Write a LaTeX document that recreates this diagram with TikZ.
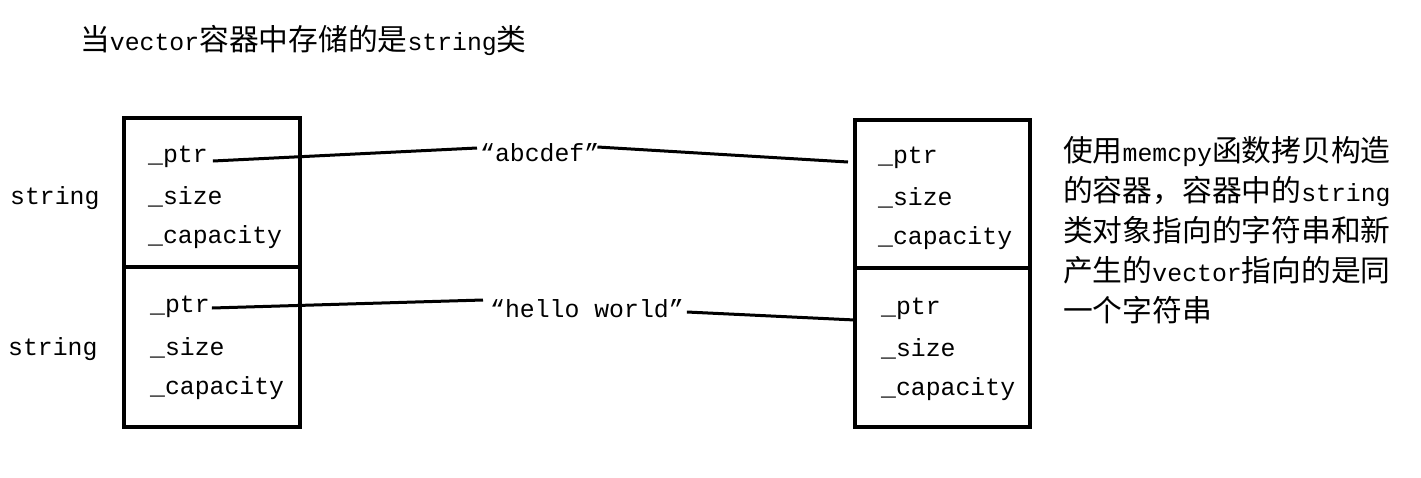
\documentclass[tikz,border=0pt]{standalone}
\usepackage{fontspec}
\setmainfont{Liberation Mono}
\newfontfamily\cjk{Noto Sans CJK SC}[Scale=1.2]
\begin{document}
\begin{tikzpicture}[x=1pt,y=-1pt,
  every node/.style={inner sep=0pt, font=\fontsize{24.8}{40}\selectfont},
  box/.style={draw, line width=4pt, minimum width=176pt},
  field/.style={anchor=west},
  link/.style={line width=3pt}]
\useasboundingbox[fill=white] (0,0) rectangle (1421,477);

% title
\node[anchor=west] (title) at (80,40) {{\cjk 当}vector{\cjk 容器中存储的是}string{\cjk 类}};

% boxes
\node[box, minimum height=149pt] (L1) at (211.5,192.5) {};
\node[box, minimum height=160pt] (L2) at (211.5,347) {};
\node[box, minimum width=175pt, minimum height=148pt] (R1) at (942.5,194) {};
\node[box, minimum width=175pt, minimum height=159pt] (R2) at (942.5,347.5) {};

% labels
\node[anchor=west] (s1) at (10,198) {string};
\node[anchor=west] (s2) at (8,349) {string};

% fields left
\node[field] (pL1) at (148,157) {\_ptr};
\node[field] (zL1) at (148,197) {\_size};
\node[field] (cL1) at (148,237) {\_capacity};
\node[field] (pL2) at (150,307) {\_ptr};
\node[field] (zL2) at (150,348) {\_size};
\node[field] (cL2) at (150,388) {\_capacity};

% fields right
\node[field] (pR1) at (878,158) {\_ptr};
\node[field] (zR1) at (878,198) {\_size};
\node[field] (cR1) at (878,238) {\_capacity};
\node[field] (pR2) at (881,309) {\_ptr};
\node[field] (zR2) at (881,349) {\_size};
\node[field] (cR2) at (881,389) {\_capacity};

% strings
\node[anchor=west] (abc) at (480,153) {“abcdef”};
\node[anchor=west] (hw) at (490,309) {“hello world”};

% end points at the right boxes
\coordinate (e1) at (848,162);
\coordinate (e2) at (855,320);

% connectors
\draw[link] ([shift={(5,4)}]pL1.east) -- ([shift={(-3,-5)}]abc.west);
\draw[link] ([shift={(-2,-6)}]abc.east) -- (e1);
\draw[link] ([shift={(2,1)}]pL2.east) -- ([shift={(-7,-9)}]hw.west);
\draw[link] ([shift={(3,3)}]hw.east) -- (e2);

% note
\node[anchor=north west, align=left] (note) at (1063,136) {%
{\cjk 使用}memcpy{\cjk 函数拷贝构造}\\
{\cjk 的容器，容器中的}string\\
{\cjk 类对象指向的字符串和新}\\
{\cjk 产生的}vector{\cjk 指向的是同}\\
{\cjk 一个字符串}};
\end{tikzpicture}
\end{document}
